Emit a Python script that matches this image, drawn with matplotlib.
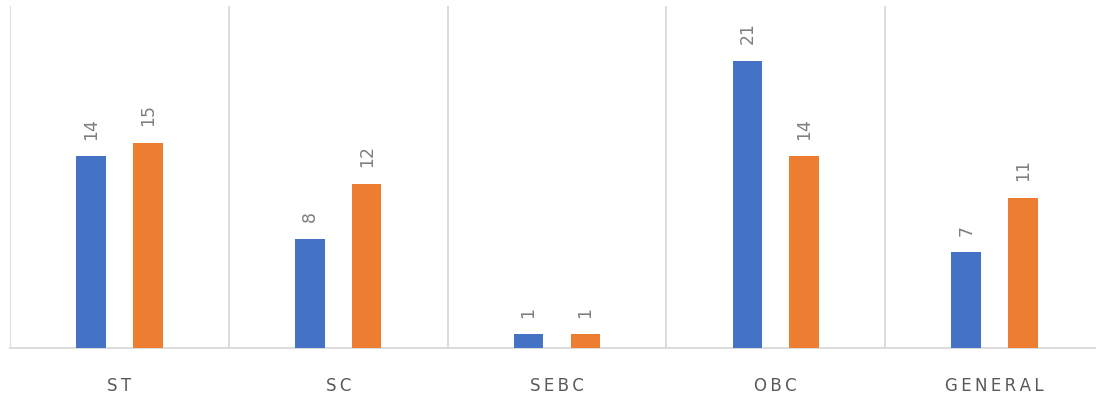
import matplotlib
matplotlib.use("Agg")
import matplotlib.pyplot as plt
import numpy as np

categories = ["ST", "SC", "SEBC", "OBC", "GENERAL"]
series_a = [14, 8, 1, 21, 7]
series_b = [15, 12, 1, 14, 11]

COLOR_A = "#4472C4"
COLOR_B = "#ED7D31"
COLOR_GRID = "#D9D9D9"
COLOR_TEXT = "#595959"
COLOR_LABEL = "#7F7F7F"

W, H = 1096, 401
fig = plt.figure(figsize=(W / 100, H / 100), dpi=100)
# axes reaches a little past the right edge, like the reference
ax = fig.add_axes([10 / W, (H - 348) / H, 1094 / W, (348 - 6) / H])

x = np.arange(len(categories))
bw = 0.135
off = 0.13
bars_a = ax.bar(x - off, series_a, bw, color=COLOR_A, zorder=3)
bars_b = ax.bar(x + off, series_b, bw, color=COLOR_B, zorder=3)

for bars in (bars_a, bars_b):
    for b in bars:
        ax.annotate(f"{int(b.get_height())}",
                    (b.get_x() + b.get_width() / 2, b.get_height()),
                    xytext=(0, 12), textcoords="offset points",
                    ha="center", va="bottom", rotation=90,
                    fontsize=12.5, color=COLOR_LABEL)

ax.set_xlim(-0.5, len(categories) - 0.5)
ax.set_ylim(0, 25)

# category boundaries as vertical grid lines
ax.set_xticks(np.arange(len(categories) + 1) - 0.5, minor=True)
ax.set_xticks(x)
ax.set_xticklabels(["\u2009".join(c) for c in categories], fontsize=12, color=COLOR_TEXT)
ax.tick_params(axis="x", which="both", length=0, pad=21)
ax.grid(True, which="minor", axis="x", color=COLOR_GRID, linewidth=1.3, zorder=0)
ax.set_yticks([])

for s in ("top", "right", "left"):
    ax.spines[s].set_visible(False)
ax.spines["bottom"].set_color(COLOR_GRID)
ax.spines["bottom"].set_linewidth(1.3)

fig.savefig("out.png", dpi=100)
